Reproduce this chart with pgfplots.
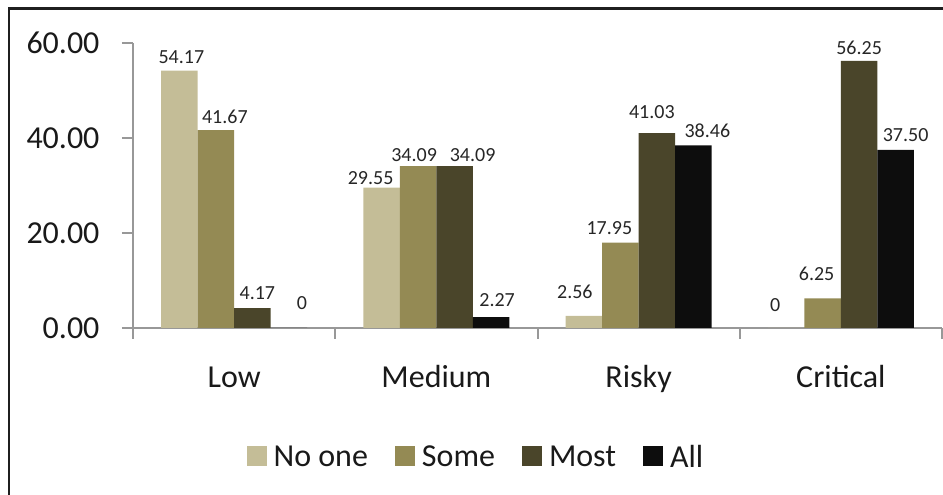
\documentclass[border=0pt]{standalone}
\usepackage{fontspec}
\setmainfont{Carlito}
\usepackage{pgfplots}
\usepackage{pgfplotstable}
\pgfplotsset{compat=1.18}
\definecolor{c1}{HTML}{C4BD97}
\definecolor{c2}{HTML}{948A54}
\definecolor{c3}{HTML}{4A452A}
\definecolor{c4}{HTML}{0D0D0D}
\definecolor{axgray}{HTML}{989898}
\pgfplotsset{sqlegend/.style={legend image code/.code={\fill[##1,draw=none] (0pt,-9.5pt) rectangle (20pt,10.5pt); \path[draw=none,fill=none] (-27pt,0pt) (27pt,0pt);}}}
% x y label dx dy  (dx, dy: offset of the value label)
\pgfplotstableread{
x y lab dx dy
0 54.17 54.17 2 13.7
1 29.55 29.55 -11 9.6
2 2.56 2.56 -9 24
3 0 0 -11 23
}\noneT
\pgfplotstableread{
x y lab dx dy
0 41.67 41.67 9 13.3
1 34.09 34.09 -4 11
2 17.95 17.95 -11 14.4
3 6.25 6.25 -6 24.7
}\someT
\pgfplotstableread{
x y lab dx dy
0 4.17 4.17 5 15
1 34.09 34.09 18 11
2 41.03 41.03 -5 21
3 56.25 56.25 0 12.5
}\mostT
\pgfplotstableread{
x y lab dx dy
0 0 0 13 25
1 2.27 2.27 6 17
2 38.46 38.46 14 15
3 37.50 37.50 10 15
}\allT
\begin{document}
\begin{tikzpicture}[x=1pt,y=1pt]
\useasboundingbox (0,0) rectangle (943,495);
\draw[line width=2.5pt, color=black!88] (9,0) -- (9,486.5) -- (943,486.5);
\begin{axis}[
  at={(133pt,167pt)}, anchor=south west,
  width=809pt, height=285pt, scale only axis,
  xmin=-0.5, xmax=3.5, ymin=0, ymax=60,
  axis x line*=bottom, axis y line*=left,
  axis line style={color=axgray, line width=2pt},
  every tick/.style={color=axgray, line width=2pt},
  tick align=outside,
  major tick length=11pt,
  ytick={0,20,40,60},
  /pgf/number format/.cd, fixed, fixed zerofill, precision=2, assume math mode=true, /pgfplots/.cd,
  yticklabel style={font=\fontsize{32}{38}\selectfont, color=black!90, xshift=-19pt},
  xtick={-0.5,0.5,1.5,2.5,3.5}, xticklabels={},
  extra x ticks={0,1,2,3},
  extra x tick labels={Low,Medium,Risky,Critical},
  extra x tick style={major tick length=0pt, xticklabel style={anchor=base, yshift=-60pt, font=\fontsize{32}{38}\selectfont, color=black!90}},
  ybar=0pt, bar width=36.5pt,
  clip=false,
  point meta=explicit symbolic,
  nodes near coords,
  visualization depends on={\thisrow{dx} \as \dx},
  visualization depends on={\thisrow{dy} \as \dy},
  every node near coord/.append style={font=\fontsize{20}{24}\selectfont, color=black!85, anchor=center, xshift=\dx pt, yshift=\dy pt},
  legend columns=4,
  legend style={at={(0.406,-0.4526)}, anchor=center, draw=none, fill=none,
    font=\fontsize{32}{38}\selectfont, text=black!90,
    nodes={inner xsep=0pt}, /tikz/column sep=0pt},
]
\addplot[fill=c1, draw=none, sqlegend] table[x=x, y=y, meta=lab] {\noneT};
\addplot[fill=c2, draw=none, sqlegend] table[x=x, y=y, meta=lab] {\someT};
\addplot[fill=c3, draw=none, sqlegend] table[x=x, y=y, meta=lab] {\mostT};
\addplot[fill=c4, draw=none, sqlegend] table[x=x, y=y, meta=lab] {\allT};
\legend{No one, Some, Most, All}
\end{axis}
\end{tikzpicture}
\end{document}
